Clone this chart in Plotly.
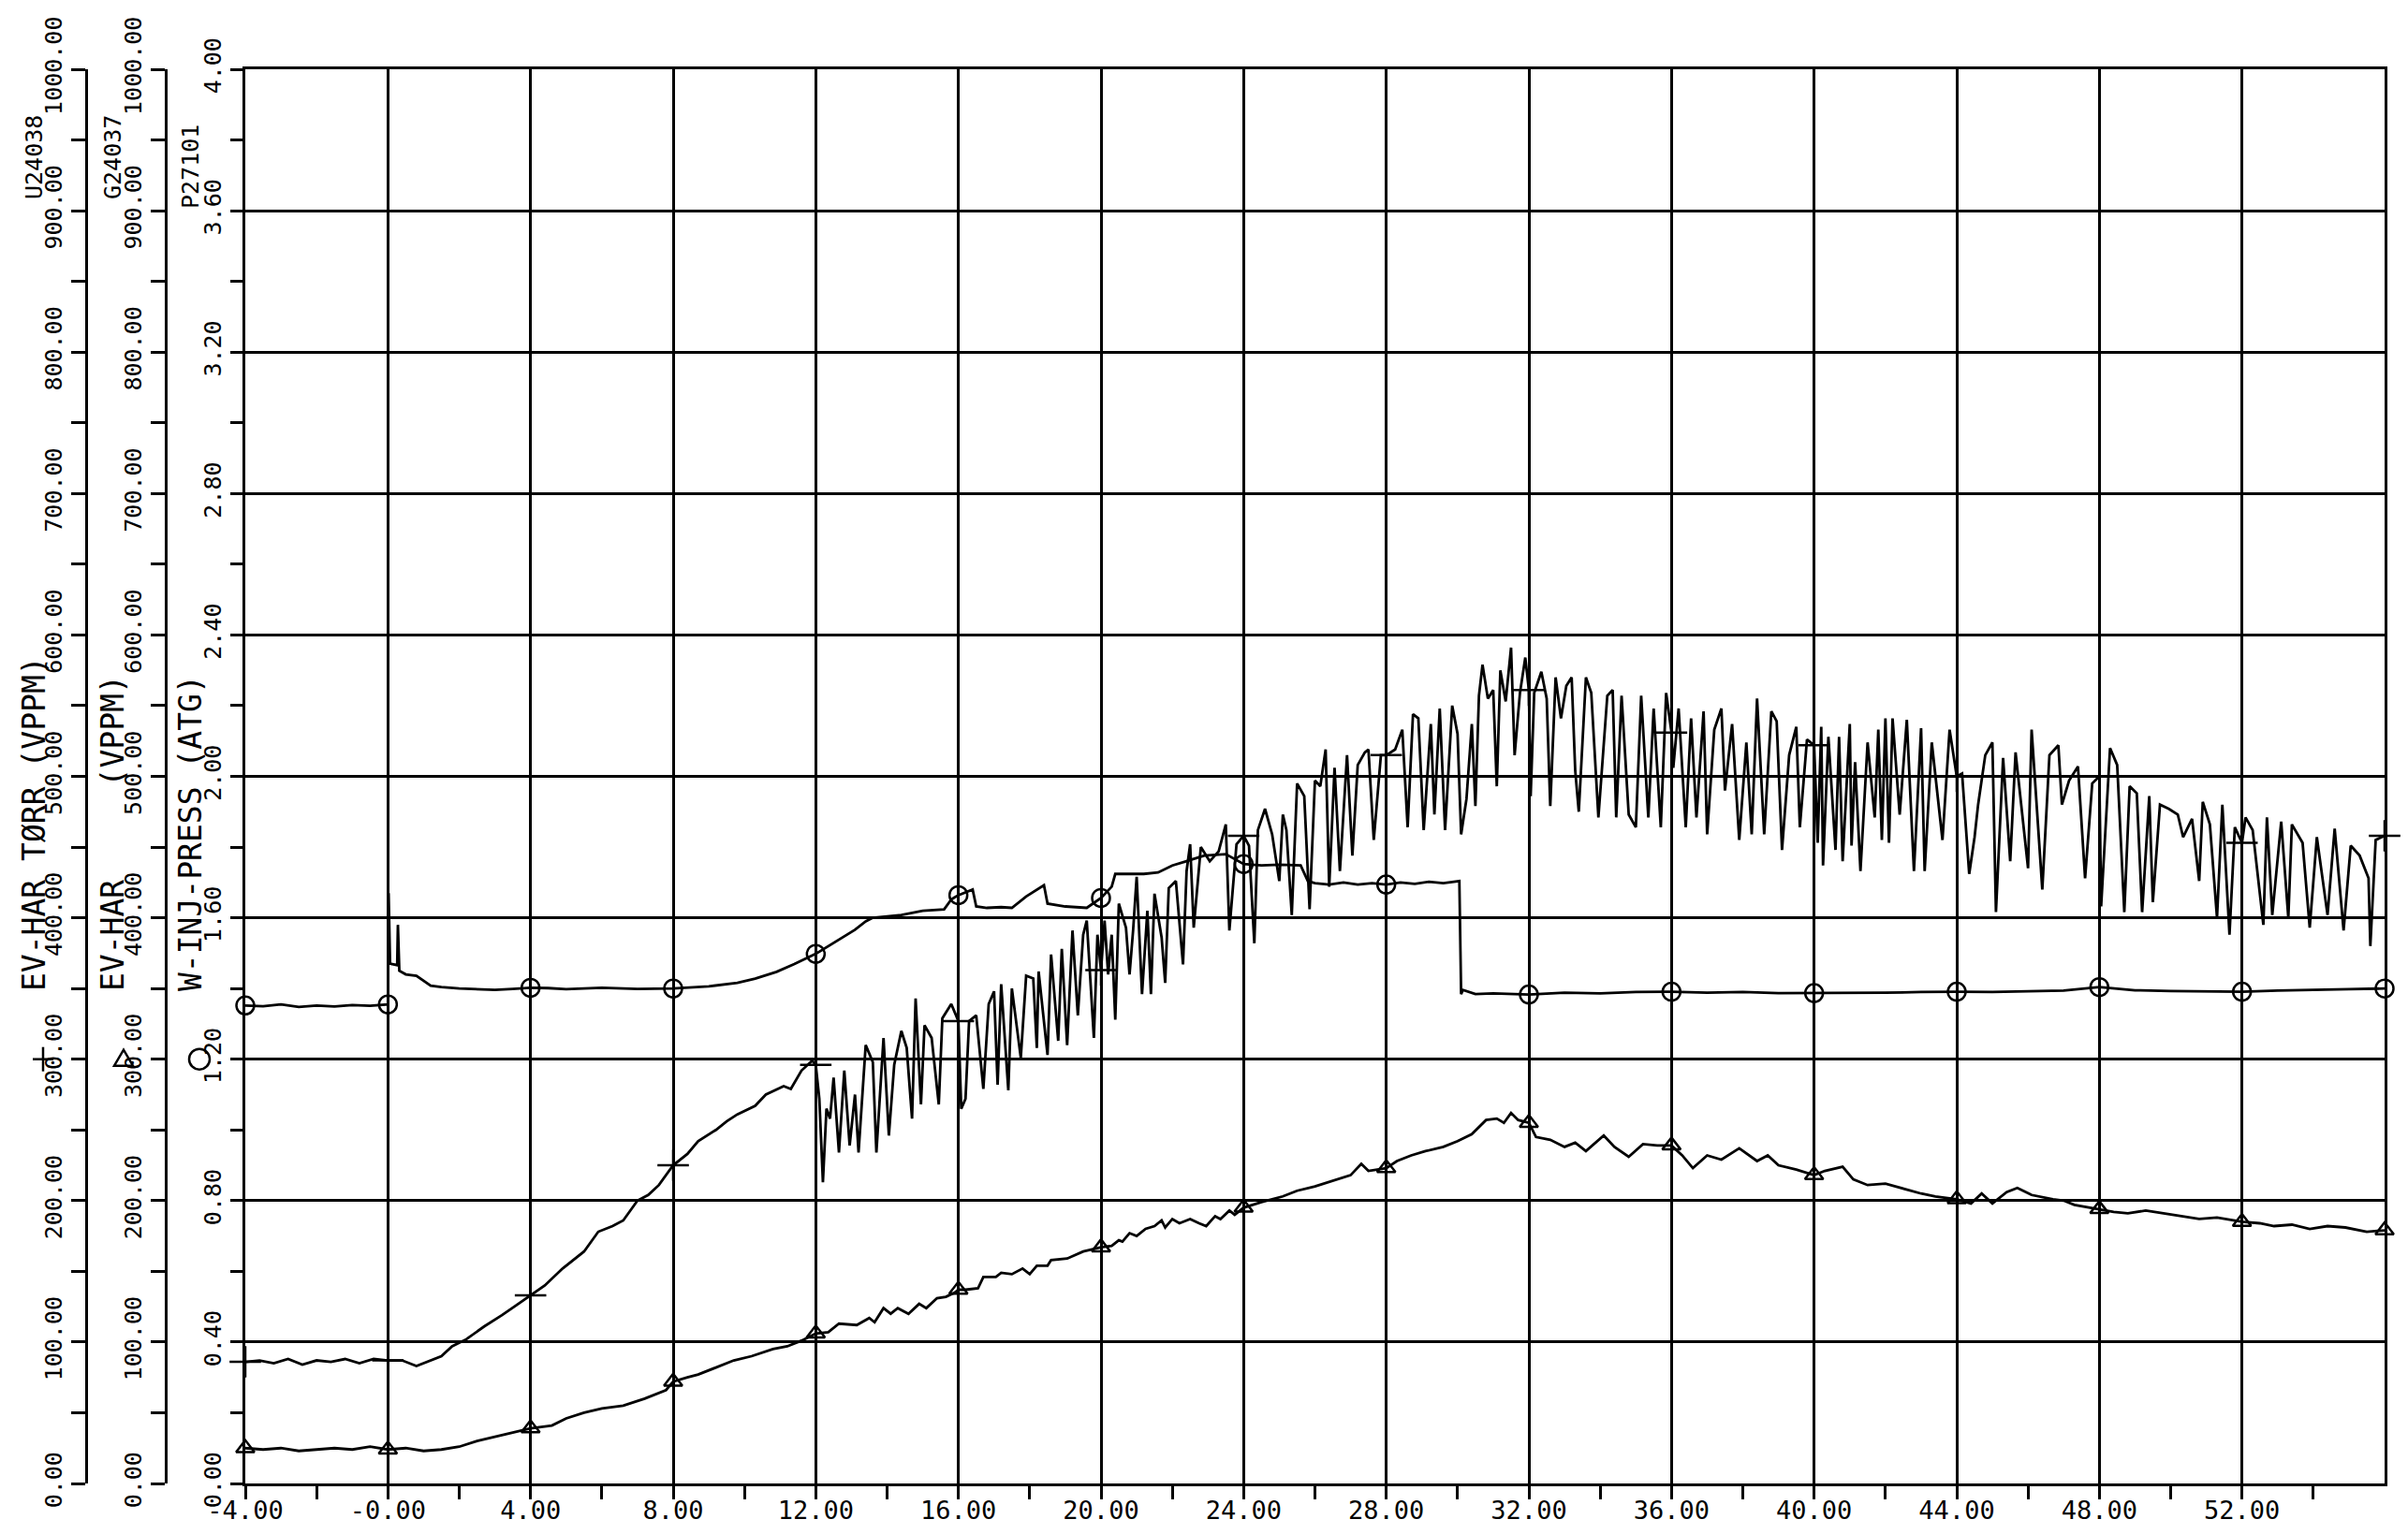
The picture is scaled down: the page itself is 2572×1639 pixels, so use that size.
import plotly.graph_objects as go

FONT = "DejaVu Sans Mono"

# ---------------- axis tick definitions ----------------
x_tick_vals = [-4, 0, 4, 8, 12, 16, 20, 24, 28, 32, 36, 40, 44, 48, 52]
x_tick_text = ["-4.00", "-0.00", "4.00", "8.00", "12.00", "16.00", "20.00", "24.00",
               "28.00", "32.00", "36.00", "40.00", "44.00", "48.00", "52.00"]
x_minor_vals = [-2, 2, 6, 10, 14, 18, 22, 26, 30, 34, 38, 42, 46, 50, 54]

vppm_tick_vals = [0, 100, 200, 300, 400, 500, 600, 700, 800, 900, 1000]
vppm_tick_text = ["0.00", "100.00", "200.00", "300.00", "400.00", "500.00",
                  "600.00", "700.00", "800.00", "900.00", "1000.00"]
vppm_minor_vals = [50, 150, 250, 350, 450, 550, 650, 750, 850, 950]

atg_tick_vals = [0, 0.4, 0.8, 1.2, 1.6, 2.0, 2.4, 2.8, 3.2, 3.6, 4.0]
atg_tick_text = ["0.00", "0.40", "0.80", "1.20", "1.60", "2.00",
                 "2.40", "2.80", "3.20", "3.60", "4.00"]
atg_minor_vals = [0.2, 0.6, 1.0, 1.4, 1.8, 2.2, 2.6, 3.0, 3.4, 3.8]

# ---------------- series: U24038  EV-HAR TØRR (VPPM) ----------------
u24038_hours = [
    -4, -3.6, -3.2, -2.8, -2.4, -2.0, -1.6, -1.2, -0.8, -0.4, 0, 0.4, 0.8, 1.1, 1.5, 1.8,
    2.2, 2.7, 3.2, 3.6, 4, 4.4, 4.9, 5.5, 5.9, 6.3, 6.6, 7.0, 7.3, 7.6, 8, 8.4, 8.7, 9.2,
    9.5, 9.8, 10.3, 10.6, 11.1, 11.3, 11.6, 11.9, 12,
    12.1, 12.2, 12.3, 12.4, 12.5, 12.65, 12.8, 12.95, 13.1, 13.2, 13.4, 13.6, 13.7, 13.9,
    14.05, 14.2, 14.4, 14.55, 14.7, 14.8, 14.95, 15.05, 15.25, 15.45, 15.55, 15.8, 16,
    16.08, 16.2, 16.3, 16.5, 16.7, 16.85, 17.0, 17.1, 17.2, 17.4, 17.5, 17.75, 17.9, 18.1,
    18.2, 18.25, 18.5, 18.6, 18.8, 18.9, 19.05, 19.2, 19.35, 19.5, 19.6, 19.8, 19.9, 20,
    20.1, 20.2, 20.3, 20.4, 20.5, 20.7, 20.8, 20.9, 21.0, 21.15, 21.3, 21.4, 21.5, 21.7,
    21.8, 21.9, 22.1, 22.3, 22.4, 22.5, 22.6, 22.8, 23.05, 23.3, 23.5, 23.6, 23.8, 24,
    24.15, 24.3, 24.4, 24.6, 24.8, 25.0, 25.1, 25.2, 25.35, 25.5, 25.7, 25.85, 26.0, 26.15,
    26.3, 26.4, 26.55, 26.7, 26.9, 27.05, 27.2, 27.4, 27.5, 27.65, 27.85, 28, 28.25, 28.45,
    28.6, 28.75, 28.9, 29.05, 29.25, 29.35, 29.5, 29.65, 29.85, 30.0, 30.1, 30.25, 30.4,
    30.5, 30.6, 30.7, 30.85, 31.0, 31.1, 31.2, 31.35, 31.5, 31.6, 31.75, 31.9, 32, 32.05,
    32.15, 32.35, 32.5, 32.6, 32.75, 32.9, 33.05, 33.2, 33.3, 33.4, 33.6, 33.75, 33.95,
    34.2, 34.35, 34.45, 34.6, 34.8, 35.0, 35.15, 35.35, 35.5, 35.7, 35.85, 36, 36.05, 36.2,
    36.4, 36.55, 36.7, 36.9, 37.0, 37.2, 37.4, 37.5, 37.7, 37.9, 38.1, 38.25, 38.4, 38.6,
    38.8, 38.95, 39.1, 39.3, 39.5, 39.6, 39.8, 40,
    40.1, 40.2, 40.25, 40.4, 40.6, 40.7, 40.8, 41.0, 41.05, 41.15, 41.3, 41.5, 41.7, 41.8,
    41.9, 42.0, 42.1, 42.2, 42.4, 42.6, 42.8, 43.0, 43.1, 43.3, 43.6, 43.8, 44, 44.15,
    44.35, 44.5, 44.6, 44.8, 45.0, 45.1, 45.3, 45.5, 45.65, 45.75, 46.0, 46.1, 46.4, 46.6,
    46.85, 46.95, 47.15, 47.4, 47.6, 47.8, 48, 48.05, 48.3, 48.5, 48.7, 48.85, 49.05, 49.2,
    49.4, 49.5, 49.7, 49.95, 50.2, 50.35, 50.6, 50.8, 50.9, 51.1, 51.3, 51.45, 51.65, 51.8,
    52, 52.1, 52.3, 52.6, 52.7, 52.85, 53.1, 53.3, 53.4, 53.7, 53.9, 54.1, 54.4, 54.6,
    54.85, 55.05, 55.3, 55.55, 55.6, 55.75, 56,
]
u24038_vppm = [
    86, 87, 85, 88, 84, 87, 86, 88, 85, 88, 87, 87, 83, 86, 90, 97,
    102, 111, 119, 126, 133, 140, 152, 164, 178, 182, 186, 200, 204, 211, 225, 233, 242, 250,
    256, 261, 267, 275, 281, 279, 292, 299, 296,
    272, 213, 265, 258, 287, 234, 292, 239, 275, 234, 310, 298, 234, 315,
    246, 296, 320, 308, 258, 343, 268, 324, 315, 268, 329, 339, 327,
    265, 272, 327, 331, 279, 339, 348, 282, 353, 278, 350, 301, 359, 357,
    308, 362, 303, 374, 313, 378, 310, 391, 331, 388, 398, 315, 388, 363,
    398, 360, 388, 328, 410, 393, 360, 391, 429, 346, 405, 346, 417, 386,
    354, 421, 426, 367, 433, 452, 393, 450, 440, 447, 466, 391, 452, 458,
    451, 382, 462, 477, 459, 426, 473, 462, 402, 495, 486, 406, 497, 493,
    519, 422, 506, 433, 515, 444, 508, 517, 519, 455, 515, 515, 519, 533,
    464, 544, 541, 462, 537, 473, 548, 462, 550, 530, 459, 484, 537,
    479, 557, 579, 555, 561, 493, 575, 553, 591, 515, 559, 584, 561, 486,
    559, 574, 555, 479, 570, 541, 564, 570, 504, 475, 570, 559, 471,
    557, 561, 471, 557, 473, 464, 557, 471, 548, 464, 559, 531, 506, 548,
    464, 541, 471, 546, 459, 533, 548, 490, 537, 455, 524, 459, 555, 459,
    546, 539, 448, 515, 535, 464, 526, 522,
    453, 535, 437, 528, 448, 528, 440, 537, 451, 510, 433, 524, 471, 533,
    455, 541, 453, 541, 473, 540, 433, 534, 433, 524, 455, 533, 500, 502,
    431, 457, 480, 515, 524, 404, 513, 440, 517, 493, 435, 533, 420, 515,
    522, 480, 497, 507, 428, 495, 500, 408, 520, 508, 404, 493, 488, 404,
    486, 411, 480, 477, 473, 457, 470, 426, 482, 466, 400, 480, 388, 464,
    453, 471, 462, 395, 471, 402, 468, 400, 466, 453, 393, 457, 402, 463,
    391, 451, 444, 428, 380, 455, 458,
]

# ---------------- series: G24037  EV-HAR (VPPM) ----------------
g24037_hours = [
    -4, -3.5, -3, -2.5, -2, -1.5, -1, -0.5, 0, 0.5, 1, 1.5, 2, 2.5, 3, 3.5, 4, 4.6, 5.0,
    5.5, 6.0, 6.6, 7.2, 7.8, 8, 8.4, 8.7, 9.2, 9.7, 10.2, 10.8, 11.2, 11.6, 12,
    12.35, 12.65, 13.15, 13.5, 13.65, 13.9, 14.1, 14.3, 14.6, 14.9, 15.1, 15.4, 15.65, 15.9,
    16, 16.2, 16.55, 16.7, 17.05, 17.2, 17.5, 17.8, 18.0, 18.2, 18.5, 18.6, 19.05, 19.5,
    20, 20.3, 20.5, 20.6, 20.8, 21.0, 21.25, 21.5, 21.7, 21.8, 22.0, 22.2, 22.5, 22.75,
    22.95, 23.2, 23.35, 23.6, 23.75, 24,
    24.5, 25.1, 25.5, 26.0, 26.5, 27.0, 27.3, 27.5, 28, 28.3, 28.7, 29.1, 29.6, 30.0, 30.4,
    30.6, 30.8, 31.1, 31.3, 31.5, 31.7, 32, 32.2, 32.6, 33.0, 33.3, 33.6, 34.1, 34.4, 34.8,
    35.2, 35.6, 36, 36.3, 36.6, 37.0, 37.4, 37.9, 38.4, 38.7, 39.0, 39.5, 40, 40.3, 40.8,
    41.1, 41.5, 42.0, 42.6, 43.0, 43.4, 44, 44.4, 44.7, 45.0, 45.4, 45.7, 46.1, 46.7, 47.0,
    47.3, 48, 48.4, 48.8, 49.3, 49.8, 50.3, 50.8, 51.3, 52, 52.5, 52.9, 53.4, 53.9, 54.4,
    54.9, 55.5, 56,
]
g24037_vppm = [
    25, 24, 25, 23, 24, 25, 24, 26, 24, 25, 23, 24, 26, 30, 33, 36, 39, 41, 46,
    50, 53, 55, 60, 66, 72, 75, 77, 82, 87, 90, 95, 97, 101, 106,
    107, 113, 112, 117, 114, 124, 120, 124, 120, 127, 124, 131, 132, 135,
    137, 137, 138, 146, 146, 149, 148, 152, 148, 154, 154, 158, 159, 164,
    167, 168, 172, 171, 177, 175, 180, 182, 186, 181, 187, 184, 187, 184,
    182, 189, 187, 193, 190, 195,
    199, 203, 207, 210, 214, 218, 226, 221, 223, 228, 232, 235, 238, 242, 247,
    252, 257, 258, 255, 262, 257, 255, 245, 243, 238, 241, 235, 246, 238, 231,
    240, 239, 239, 232, 223, 232, 229, 237, 228, 232, 225, 222, 218, 221, 224,
    215, 211, 212, 208, 205, 203, 201, 198, 205, 198, 206, 209, 204, 201, 200,
    197, 194, 192, 191, 193, 191, 189, 187, 188, 185, 184, 182, 183, 180, 182,
    181, 178, 179,
]

# ---------------- series: P27101  W-INJ-PRESS (ATG) ----------------
p27101_hours = [
    -4, -3.5, -3, -2.5, -2, -1.5, -1, -0.5, 0, 0.02, 0.06, 0.2, 0.26, 0.28, 0.32, 0.5, 0.8,
    1.2, 1.5, 2.0, 2.5, 3.0, 3.5, 4, 4.5, 5, 6, 7, 8, 8.5, 9, 9.8, 10.3, 10.9, 11.4, 12,
    12.4, 12.8, 13.1, 13.4, 13.6, 14.0, 14.4, 15.0, 15.6, 15.8, 16, 16.4, 16.5, 16.8, 17.2,
    17.5, 17.9, 18.4, 18.5, 19.0, 19.6, 20, 20.3, 20.4, 20.8, 21.2, 21.6, 22.0, 22.4, 22.9,
    23.5, 24,
    24.5, 25.0, 25.6, 25.8, 26.0, 26.4, 26.8, 27.2, 27.6, 28, 28.4, 28.8, 29.2, 29.6, 30.05,
    30.1, 30.15, 30.5, 31.0, 32, 33, 34, 35, 36, 37, 38, 39, 40, 41, 42, 43, 44, 45, 46, 47,
    48, 49, 50, 51, 52, 53, 54, 55, 56,
]
p27101_atg = [
    1.352, 1.350, 1.355, 1.348, 1.352, 1.349, 1.353, 1.351, 1.355, 1.67, 1.47, 1.468, 1.466,
    1.58, 1.45, 1.44, 1.436, 1.408, 1.404, 1.400, 1.398, 1.396, 1.399, 1.402, 1.401, 1.398,
    1.402, 1.399, 1.400, 1.402, 1.406, 1.416, 1.428, 1.447, 1.469, 1.498,
    1.522, 1.548, 1.566, 1.590, 1.600, 1.604, 1.608, 1.620, 1.624, 1.652, 1.664, 1.680,
    1.632, 1.628, 1.630, 1.628, 1.660, 1.692, 1.640, 1.632, 1.628, 1.656, 1.688, 1.724,
    1.724, 1.724, 1.728, 1.748, 1.760, 1.776, 1.780, 1.752,
    1.748, 1.750, 1.748, 1.704, 1.698, 1.694, 1.700, 1.694, 1.698, 1.694, 1.700, 1.696,
    1.702, 1.698, 1.704, 1.384, 1.396, 1.384, 1.386, 1.383, 1.388, 1.386, 1.390, 1.391,
    1.388, 1.390, 1.387, 1.387, 1.389, 1.388, 1.390, 1.391, 1.390, 1.392, 1.394, 1.404,
    1.395, 1.393, 1.392, 1.391, 1.394, 1.395, 1.398, 1.400,
]

# ---------------- figure geometry ----------------
# the page adds an 8 px body margin, so the figure itself is drawn 8 px in and down
OFF = 8
W, H = 2572 - OFF, 1639 - OFF
PLOT_L, PLOT_R, PLOT_T, PLOT_B = 262, 2547, 74, 1585        # target page pixels
ML = 0
MR = W - (PLOT_R - OFF)
MT = PLOT_T - OFF
MB = H - (PLOT_B - OFF)
PW = W - ML - MR
PH = H - MT - MB
AX_U_X = 92
AX_G_X = 177


def px_x(p):
    return (p - OFF - ML) / PW


def px_y(p):
    return (MT + PH - (p - OFF)) / PH


def marker_idx(hours):
    return [i for i, h in enumerate(hours) if abs(h / 4 - round(h / 4)) < 1e-9]


fig = go.Figure()

LINE = dict(color="black", width=2.8)
series = [
    (u24038_hours, u24038_vppm, "y2", "cross-thin-open", 24),
    (g24037_hours, g24037_vppm, "y3", "triangle-up-open", 17),
    (p27101_hours, p27101_atg, "y", "circle-open", 19),
]
for hx, vy, ax, sym, sz in series:
    fig.add_trace(go.Scatter(x=hx, y=vy, yaxis=ax, mode="lines", line=LINE,
                             showlegend=False, hoverinfo="skip"))
    idx = marker_idx(hx)
    fig.add_trace(go.Scatter(x=[hx[i] for i in idx], y=[vy[i] for i in idx], yaxis=ax,
                             mode="markers", cliponaxis=False, showlegend=False,
                             hoverinfo="skip",
                             marker=dict(symbol=sym, size=sz, color="black",
                                         line=dict(color="black", width=2.5))))

tickfont = dict(family=FONT, size=25, color="black")

common_y = dict(
    ticks="outside", tickwidth=2.5, tickcolor="black",
    tickangle=-90, tickfont=tickfont, showline=True, linecolor="black", linewidth=3,
    zeroline=False, fixedrange=True, automargin=False,
)

fig.update_layout(
    width=W, height=H,
    margin=dict(l=ML, r=MR, t=MT, b=MB, pad=0, autoexpand=False),
    paper_bgcolor="white", plot_bgcolor="white",
    showlegend=False,
    xaxis=dict(
        domain=[px_x(PLOT_L), 1], range=[-4, 56],
        tickmode="array", tickvals=x_tick_vals, ticktext=x_tick_text,
        ticks="outside", ticklen=14, tickwidth=2.5, tickcolor="black",
        tickfont=dict(family=FONT, size=27, color="black"),
        ticklabelstandoff=-11,
        minor=dict(tickmode="array", tickvals=x_minor_vals, ticks="outside", ticklen=14,
                   tickwidth=2.5, tickcolor="black", showgrid=False),
        showgrid=True, gridcolor="black", gridwidth=2.5,
        showline=True, linecolor="black", linewidth=3, mirror=True,
        zeroline=False, automargin=False,
    ),
    yaxis=dict(
        range=[0, 4], anchor="x", side="left", ticklen=13,
        tickmode="array", tickvals=atg_tick_vals, ticktext=atg_tick_text,
        minor=dict(tickmode="array", tickvals=atg_minor_vals, ticks="outside", ticklen=13,
                   tickwidth=2.5, tickcolor="black", showgrid=False),
        showgrid=True, gridcolor="black", gridwidth=2.5, mirror=True,
        **common_y,
    ),
    yaxis2=dict(
        range=[0, 1000], overlaying="y", anchor="free", position=px_x(AX_U_X), side="left",
        ticklen=15,
        tickmode="array", tickvals=vppm_tick_vals, ticktext=vppm_tick_text,
        minor=dict(tickmode="array", tickvals=vppm_minor_vals, ticks="outside", ticklen=15,
                   tickwidth=2.5, tickcolor="black", showgrid=False),
        showgrid=False, **common_y,
    ),
    yaxis3=dict(
        range=[0, 1000], overlaying="y", anchor="free", position=px_x(AX_G_X), side="left",
        ticklen=15,
        tickmode="array", tickvals=vppm_tick_vals, ticktext=vppm_tick_text,
        minor=dict(tickmode="array", tickvals=vppm_minor_vals, ticks="outside", ticklen=15,
                   tickwidth=2.5, tickcolor="black", showgrid=False),
        showgrid=False, **common_y,
    ),
)

NB = "\u00a0"
ann = [
    ("U24038", 36, 168, 25),
    ("G24037", 120, 168, 25),
    ("P27101", 203, 178, 25),
    ("EV-HAR TØRR (VPPM)", 36, 880, 33),
    ("EV-HAR" + NB * 5 + "(VPPM)", 120, 890, 33),
    ("W-INJ-PRESS (ATG)", 203, 890, 33),
]
for text, xp, yp, fs in ann:
    fig.add_annotation(text=text, xref="paper", yref="paper", x=px_x(xp), y=px_y(yp),
                       xanchor="center", yanchor="middle", textangle=-90, showarrow=False,
                       font=dict(family=FONT, size=fs, color="black"))

# legend symbols beside the axes (at 300 / 1.20)
sym_y = 1.2
fig.add_shape(type="line", xref="paper", yref="y", xsizemode="pixel", ysizemode="pixel",
              xanchor=px_x(46), yanchor=sym_y, x0=-11, x1=11, y0=0, y1=0,
              line=dict(color="black", width=2.5))
fig.add_shape(type="line", xref="paper", yref="y", xsizemode="pixel", ysizemode="pixel",
              xanchor=px_x(46), yanchor=sym_y, x0=0, x1=0, y0=-13, y1=13,
              line=dict(color="black", width=2.5))
fig.add_shape(type="path", xref="paper", yref="y", xsizemode="pixel", ysizemode="pixel",
              xanchor=px_x(132), yanchor=sym_y, path="M -10,-7 L 10,-7 L 0,10 Z",
              line=dict(color="black", width=2.5))
fig.add_shape(type="circle", xref="paper", yref="y", xsizemode="pixel", ysizemode="pixel",
              xanchor=px_x(213), yanchor=sym_y, x0=-11, x1=11, y0=-11, y1=11,
              line=dict(color="black", width=2.5))

fig.write_html("out.html")
